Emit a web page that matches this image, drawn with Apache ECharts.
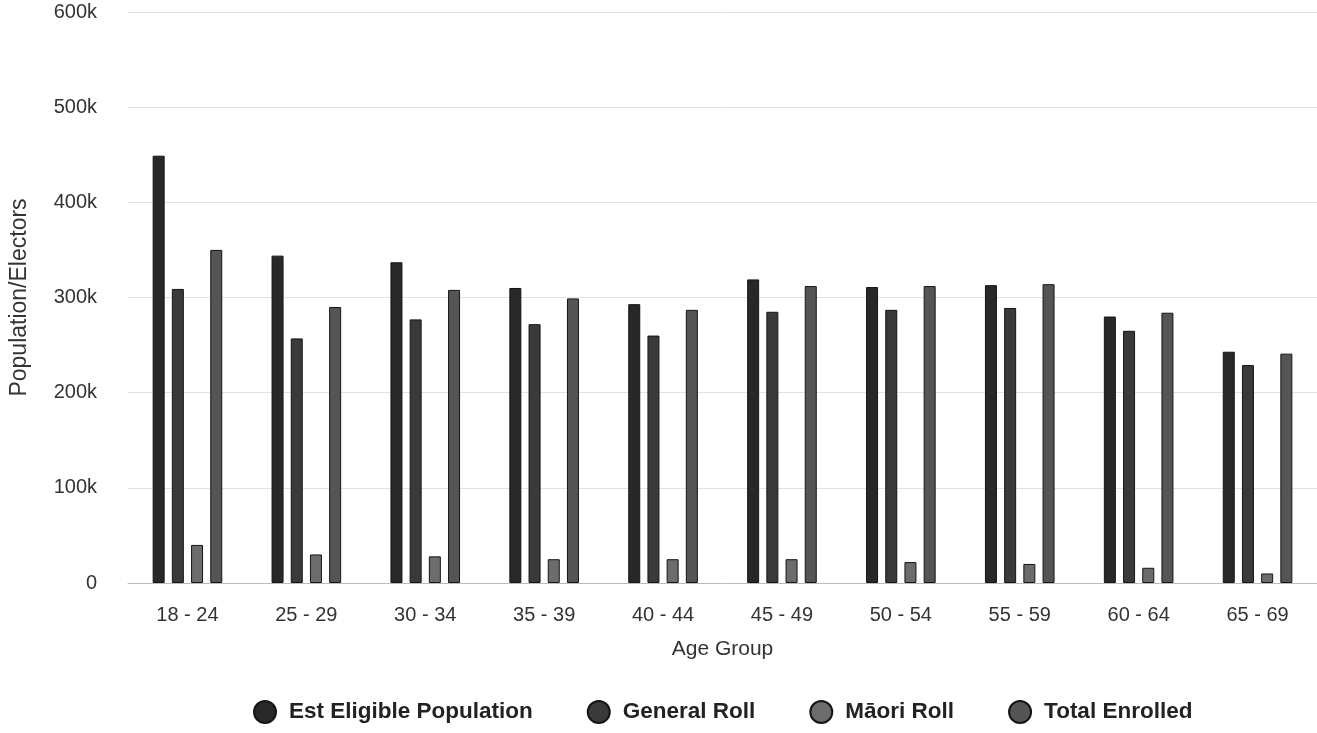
<!DOCTYPE html>
<html>
<head>
<meta charset="utf-8">
<script src="https://cdn.jsdelivr.net/npm/echarts@6/dist/echarts.min.js"></script>
<style>
html,body{margin:0;padding:0;background:#fff;}
#c{width:1317px;height:733px;}
</style>
</head>
<body>
<div id="c"></div>
<script>
var categories = ['18 - 24','25 - 29','30 - 34','35 - 39','40 - 44','45 - 49','50 - 54','55 - 59','60 - 64','65 - 69'];
var estEligible = [449000, 344000, 337000, 310000, 293000, 319000, 311000, 313000, 280000, 243000];
var generalRoll = [309000, 257000, 277000, 272000, 260000, 285000, 287000, 289000, 265000, 229000];
var maoriRoll   = [40000, 30000, 28000, 25000, 25000, 25000, 22000, 20000, 16000, 10000];
var totalEnrolled = [350000, 290000, 308000, 299000, 287000, 312000, 312000, 314000, 284000, 241000];
var yTicks = [0, 100000, 200000, 300000, 400000, 500000, 600000];

var seriesNames = ['Est Eligible Population','General Roll','Māori Roll','Total Enrolled'];
var seriesData = [estEligible, generalRoll, maoriRoll, totalEnrolled];
var colors = ['#282828','#3a3a3a','#6c6c6c','#555555'];

var chart = echarts.init(document.getElementById('c'));
var font = 'Liberation Sans, Arial, sans-serif';
chart.setOption({
  animation:false,
  color: colors,
  textStyle:{fontFamily:font},
  grid:{left:126, right:-6, top:12, bottom:150, containLabel:false},
  legend:{
    bottom:4, left:248, icon:'circle', itemWidth:22, itemHeight:22, itemGap:54,
    textStyle:{fontSize:22.5, fontWeight:'bold', color:'#222', fontFamily:font, padding:[0,0,0,8]},
    data: seriesNames
  },
  xAxis:{
    type:'category', data:categories,
    name:'Age Group', nameLocation:'middle', nameGap:56,
    nameTextStyle:{fontSize:21, color:'#333', fontFamily:font},
    axisLine:{show:true, lineStyle:{color:'#bbbbbb', width:1}},
    axisTick:{show:false},
    axisLabel:{fontSize:20, color:'#333', margin:22, fontFamily:font}
  },
  yAxis:{
    type:'value', min:yTicks[0], max:yTicks[yTicks.length-1], interval:100000,
    name:'Population/Electors', nameLocation:'middle', nameGap:97,
    nameTextStyle:{fontSize:23, color:'#333', fontFamily:font},
    axisLine:{show:false}, axisTick:{show:false},
    axisLabel:{fontSize:20, color:'#333', margin:31, fontFamily:font,
      formatter:function(v){return v===0?'0':(v/1000)+'k';}},
    splitLine:{lineStyle:{color:'#e2e2e2', width:1}}
  },
  series: seriesNames.map(function(n,i){
    return {
      name:n, type:'bar', data:seriesData[i], barWidth:12, barGap:'60%',
      itemStyle:{color:colors[i], borderColor:'#151515', borderWidth:1}
    };
  })
});
</script>
</body>
</html>
